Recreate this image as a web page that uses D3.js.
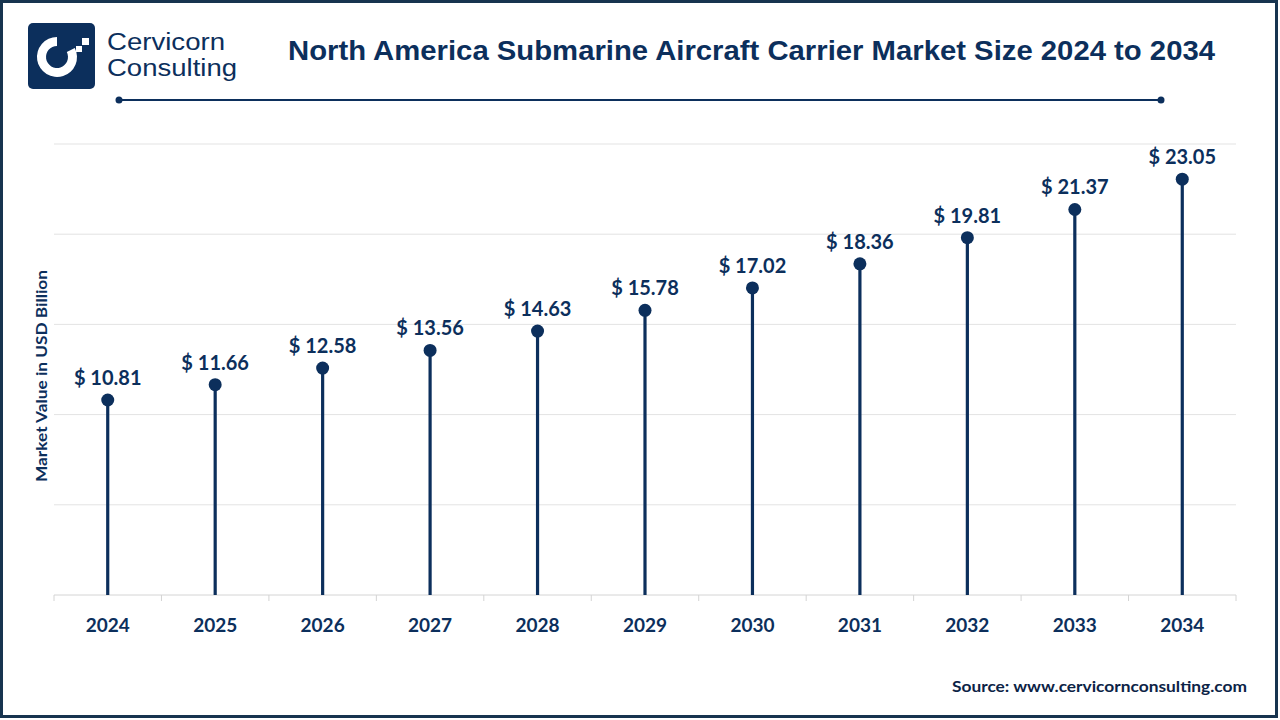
<!DOCTYPE html>
<html>
<head>
<meta charset="utf-8">
<script src="https://cdn.jsdelivr.net/npm/d3@7"></script>
<style>
  html, body { margin: 0; padding: 0; background: #fff; }
  svg { display: block; }
</style>
</head>
<body>
<svg id="chart" width="1280" height="720"></svg>
<script>
const years = ["2024","2025","2026","2027","2028","2029","2030","2031","2032","2033","2034"];
const values = [10.81, 11.66, 12.58, 13.56, 14.63, 15.78, 17.02, 18.36, 19.81, 21.37, 23.05];
const yTicks = [0, 5, 10, 15, 20, 25];
const title = "North America Submarine Aircraft Carrier Market Size 2024 to 2034";
const yAxisTitle = "Market Value in USD Billion";
const sourceText = "Source: www.cervicornconsulting.com";

(function () {
const navy = "#0c2f5c";
const svg = d3.select("#chart");

// outer border
svg.append("rect").attr("x", 1.5).attr("y", 1.5).attr("width", 1275).attr("height", 715)
  .attr("fill", "#fff").attr("stroke", "#17344f").attr("stroke-width", 3);

// logo
const logo = svg.append("g");
logo.append("rect").attr("x", 28).attr("y", 23).attr("width", 67).attr("height", 66).attr("rx", 5).attr("fill", navy);
const arc = d3.arc().innerRadius(11).outerRadius(20).startAngle(0.35 * Math.PI).endAngle(2.0 * Math.PI);
logo.append("path").attr("d", arc()).attr("transform", "translate(57,57)").attr("fill", "#fff");
logo.append("rect").attr("x", 82).attr("y", 38).attr("width", 7).attr("height", 7).attr("fill", "#fff");
logo.append("rect").attr("x", 76).attr("y", 46).attr("width", 6).attr("height", 6).attr("fill", "#fff");
logo.append("rect").attr("x", 70).attr("y", 52).attr("width", 6).attr("height", 5).attr("fill", "#fff");
logo.append("text").attr("x", 107).attr("y", 50).text("Cervicorn")
  .attr("font-family", "'Liberation Sans', Arial, sans-serif").attr("font-size", 23).attr("fill", navy)
  .attr("textLength", 118).attr("lengthAdjust", "spacingAndGlyphs");
logo.append("text").attr("x", 107).attr("y", 76).text("Consulting")
  .attr("font-family", "'Liberation Sans', Arial, sans-serif").attr("font-size", 23).attr("fill", navy)
  .attr("textLength", 130).attr("lengthAdjust", "spacingAndGlyphs");

// title
svg.append("text").attr("x", 288).attr("y", 60).text(title)
  .attr("font-family", "'Liberation Sans', Arial, sans-serif").attr("font-weight", "bold")
  .attr("font-size", 27).attr("fill", navy)
  .attr("textLength", 927).attr("lengthAdjust", "spacingAndGlyphs");

// title underline with end dots
svg.append("line").attr("x1", 118).attr("x2", 1162).attr("y1", 100).attr("y2", 100)
  .attr("stroke", navy).attr("stroke-width", 2);
svg.append("circle").attr("cx", 119).attr("cy", 100).attr("r", 3.5).attr("fill", navy);
svg.append("circle").attr("cx", 1161).attr("cy", 100).attr("r", 3.5).attr("fill", navy);

// scales
const pLeft = 54, pRight = 1236, pTop = 144, pBottom = 595;
const x = d3.scaleBand().domain(years).range([pLeft, pRight]).padding(0);
const y = d3.scaleLinear().domain([0, 25]).range([pBottom, pTop]);

// gridlines
svg.append("g").selectAll("line").data(yTicks.filter(d => d > 0)).join("line")
  .attr("x1", pLeft).attr("x2", pRight)
  .attr("y1", d => y(d)).attr("y2", d => y(d))
  .attr("stroke", "#e3e3e3").attr("stroke-width", 1);

// x axis
const xAxis = svg.append("g").attr("transform", `translate(0,${pBottom})`);
xAxis.append("line").attr("x1", pLeft).attr("x2", pRight).attr("stroke", "#d4d4d4").attr("stroke-width", 1);
const bounds = years.map(d => x(d)).concat([pRight]);
xAxis.selectAll("line.tick").data(bounds).join("line").attr("class", "tick")
  .attr("x1", d => d).attr("x2", d => d).attr("y1", 0).attr("y2", 6)
  .attr("stroke", "#d4d4d4").attr("stroke-width", 1);
xAxis.selectAll("text").data(years).join("text")
  .attr("x", d => x(d) + x.bandwidth() / 2).attr("y", 37)
  .attr("text-anchor", "middle").text(d => d)
  .attr("font-family", "Lato, 'Open Sans', sans-serif").attr("font-weight", "bold")
  .attr("font-size", 19).attr("fill", navy);

// lollipops
const g = svg.append("g");
const cx = d => x(d) + x.bandwidth() / 2;
g.selectAll("line.stem").data(years).join("line").attr("class", "stem")
  .attr("x1", cx).attr("x2", cx)
  .attr("y1", pBottom).attr("y2", (d, i) => y(values[i]))
  .attr("stroke", navy).attr("stroke-width", 3.2);
g.selectAll("circle").data(years).join("circle")
  .attr("cx", cx).attr("cy", (d, i) => y(values[i])).attr("r", 6.5).attr("fill", navy);
g.selectAll("text").data(years).join("text")
  .attr("x", cx).attr("y", (d, i) => y(values[i]) - 15)
  .attr("text-anchor", "middle").text((d, i) => "$ " + values[i].toFixed(2))
  .attr("font-family", "Lato, 'Open Sans', sans-serif").attr("font-weight", "bold")
  .attr("font-size", 20).attr("fill", navy);

// y axis title
svg.append("text").attr("transform", "translate(47,376) rotate(-90)")
  .attr("text-anchor", "middle").text(yAxisTitle)
  .attr("font-family", "Lato, 'Open Sans', sans-serif").attr("font-weight", "bold")
  .attr("font-size", 16).attr("fill", navy)
  .attr("textLength", 212).attr("lengthAdjust", "spacingAndGlyphs");

// source
svg.append("text").attr("x", 1247).attr("y", 692).attr("text-anchor", "end").text(sourceText)
  .attr("font-family", "Lato, 'Open Sans', sans-serif").attr("font-weight", "bold")
  .attr("font-size", 16).attr("fill", "#0c2346")
  .attr("textLength", 295).attr("lengthAdjust", "spacingAndGlyphs");
})();
</script>
</body>
</html>
